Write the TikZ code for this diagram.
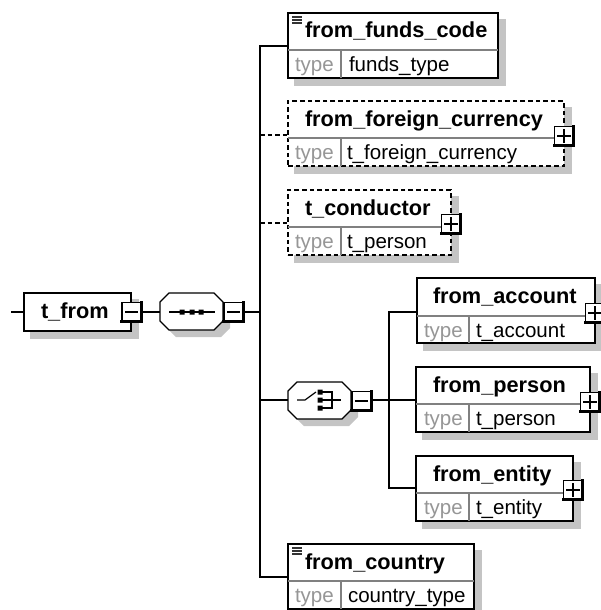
\documentclass[tikz,border=0pt]{standalone}
\usepackage{fontspec}
\setmainfont{Liberation Sans}
\usetikzlibrary{shadows}
\definecolor{shadowgray}{HTML}{C4C4C4}
\definecolor{divcol}{HTML}{808080}
\definecolor{typecol}{HTML}{969696}
\tikzset{
  x=.75pt,y=-.75pt,
  elbox/.style={draw=black,fill=white,line width=1.05pt,rectangle,inner sep=0,outer sep=0,anchor=north west,
    copy shadow={shadow xshift=5.25pt,shadow yshift=-5.25pt,draw=shadowgray,fill=shadowgray,solid}},
  optbox/.style={elbox,dash pattern=on 3.4pt off 2.3pt},
  octaanchor/.style={rectangle,inner sep=0,outer sep=0,anchor=north west,minimum width=47.25pt,minimum height=27.75pt},
  octaline/.style={draw=black,fill=white,line width=.95pt},
  btnbox/.style={draw=black,fill=white,line width=1.05pt,rectangle,inner sep=0,outer sep=0,minimum width=14.4pt,minimum height=14.4pt},
  conn/.style={draw=black,line width=1.05pt},
  optconn/.style={conn,dash pattern=on 3.4pt off 2.3pt},
  divider/.style={draw=divcol,line width=.95pt},
  titletext/.style={anchor=base west,inner sep=0,outer sep=0,font=\fontsize{16.3pt}{18pt}\selectfont\bfseries},
  valtext/.style={anchor=base west,inner sep=0,outer sep=0,font=\fontsize{15.4pt}{18pt}\selectfont},
  typetext/.style={valtext,text=typecol},
}
\newcommand{\elemdiv}[3]{\draw[divider] (#1.west |- 0,#2) -- (#1.east |- 0,#2) (#3,#2) -- (#3,#2 |- #1.south);}
\newcommand{\btnframe}[1]{\draw[line width=2.2pt,line cap=rect] (#1.north east) -- (#1.south east) -- (#1.south west);}
\newcommand{\minusbtn}[2]{\node[btnbox] (#1) at (#2) {};\btnframe{#1}\draw[line width=.9pt] ([xshift=-4.8pt]#1.center) -- ([xshift=4.8pt]#1.center);}
\newcommand{\plusbtn}[2]{\node[btnbox] (#1) at (#2) {};\btnframe{#1}\draw[line width=.9pt] ([xshift=-5pt]#1.center) -- ([xshift=5pt]#1.center) ([yshift=-5pt]#1.center) -- ([yshift=5pt]#1.center);}
\newcommand{\docicon}[2]{\draw[line width=.8pt,draw=black!80] (#1,#2) -- +(10,0) (#1,#2+3) -- +(10,0) (#1,#2+6) -- +(10,0);}
\newcommand{\octagon}[3]{%
  \begin{scope}[shift={(#2,#3)}]
    \fill[fill=shadowgray] (16,7) -- (61,7) -- (70,16) -- (70,35) -- (61,44) -- (16,44) -- (7,35) -- (7,16) -- cycle;
    \path[octaline] (9,0) -- (54,0) -- (63,9) -- (63,28) -- (54,37) -- (9,37) -- (0,28) -- (0,9) -- cycle;
  \end{scope}
  \node[octaanchor] (#1) at (#2,#3) {};}
\begin{document}
\begin{tikzpicture}
\useasboundingbox (0,0) rectangle (600,610);

% root
\node[elbox,minimum width=80.25pt,minimum height=28.5pt] (root) at (24,293) {};
\node[titletext] (rootT) at (41,318) {t\_from};
\minusbtn{rootB}{131.5,312}
\coordinate (stub) at (11,312);

% sequence
\octagon{seq}{160}{293}
\minusbtn{seqB}{233.5,312}
\draw[line width=.9pt] (169,312) -- (215,312);
\fill (179.5,309.5) rectangle +(5,5) (189.5,309.5) rectangle +(5,5) (198.5,309.5) rectangle +(5,5);
\coordinate (trunk) at (260,312);

% from_funds_code
\node[elbox,minimum width=157.5pt,minimum height=48.75pt] (funds) at (288,13) {};
\elemdiv{funds}{50}{341}
\docicon{292}{17}
\node[titletext] (fundsT) at (305,38) {from\_funds\_code};
\node[typetext] (fundsK) at (295,71) {type};
\node[valtext] (fundsV) at (349,71) {funds\_type};

% from_foreign_currency
\node[optbox,minimum width=207pt,minimum height=48.75pt] (foreign) at (288,101) {};
\elemdiv{foreign}{138}{341}
\node[titletext] (foreignT) at (305,126) {from\_foreign\_currency};
\node[typetext] (foreignK) at (295,159) {type};
\node[valtext] (foreignV) at (347,159) {t\_foreign\_currency};
\plusbtn{foreignB}{564,136}

% t_conductor
\node[optbox,minimum width=122.25pt,minimum height=48.75pt] (cond) at (288,190) {};
\elemdiv{cond}{227}{341}
\node[titletext] (condT) at (305,215) {t\_conductor};
\node[typetext] (condK) at (295,248) {type};
\node[valtext] (condV) at (347,248) {t\_person};
\plusbtn{condB}{451,224}

% choice
\octagon{choice}{288}{382}
\minusbtn{choiceB}{361.5,401}
\draw[line width=.9pt] (297,400) -- (305,400) -- (316,392);
\fill (317.5,389.5) rectangle +(5,5) (317.5,397.5) rectangle +(5,5) (317.5,405.5) rectangle +(5,5);
\draw[line width=.9pt] (320,392) -- (332,392) -- (332,408) -- (320,408) (320,400) -- (341,400);
\coordinate (branch) at (389,400);

% from_account
\node[elbox,minimum width=133.5pt,minimum height=48.75pt] (account) at (417,278) {};
\elemdiv{account}{316}{469}
\node[titletext] (accountT) at (433,303) {from\_account};
\node[typetext] (accountK) at (424,337) {type};
\node[valtext] (accountV) at (476,337) {t\_account};
\plusbtn{accountB}{595,313}

% from_person
\node[elbox,minimum width=130.5pt,minimum height=48.75pt] (person) at (416,367) {};
\elemdiv{person}{404}{469}
\node[titletext] (personT) at (433,392) {from\_person};
\node[typetext] (personK) at (424,425) {type};
\node[valtext] (personV) at (476,425) {t\_person};
\plusbtn{personB}{590,402}

% from_entity
\node[elbox,minimum width=117.75pt,minimum height=48.75pt] (entity) at (416,456) {};
\elemdiv{entity}{493}{469}
\node[titletext] (entityT) at (433,481) {from\_entity};
\node[typetext] (entityK) at (424,514) {type};
\node[valtext] (entityV) at (476,514) {t\_entity};
\plusbtn{entityB}{573,490}

% from_country
\node[elbox,minimum width=139.5pt,minimum height=48.75pt] (country) at (288,544) {};
\elemdiv{country}{581}{341}
\docicon{292}{548}
\node[titletext] (countryT) at (305,569) {from\_country};
\node[typetext] (countryK) at (295,602) {type};
\node[valtext] (countryV) at (348,602) {country\_type};

% connectors
\coordinate (fundsIn) at ([yshift=-.375pt]funds.west);
\coordinate (foreignIn) at ([yshift=-1.125pt]foreign.west);
\coordinate (condIn) at ([yshift=-.375pt]cond.west);
\coordinate (accountIn) at ([yshift=-1.125pt]account.west);
\coordinate (entityIn) at ([yshift=.375pt]entity.west);
\coordinate (countryIn) at ([yshift=-.375pt]country.west);
\draw[conn] (stub) -- (root.west |- stub);
\draw[conn] (rootB.east |- stub) -- (seq.west |- stub);
\draw[conn] (seqB.east |- trunk) -- (trunk);
\draw[conn] (fundsIn) -| (trunk);
\draw[conn] (countryIn) -| (trunk);
\draw[optconn] (foreignIn -| trunk) -- (foreignIn);
\draw[optconn] (condIn -| trunk) -- (condIn);
\draw[conn] (trunk |- branch) -- (choice.west |- branch);
\draw[conn] (choiceB.east |- branch) -- (person.west |- branch);
\draw[conn] (accountIn) -| (branch);
\draw[conn] (entityIn) -| (branch);
\end{tikzpicture}
\end{document}
